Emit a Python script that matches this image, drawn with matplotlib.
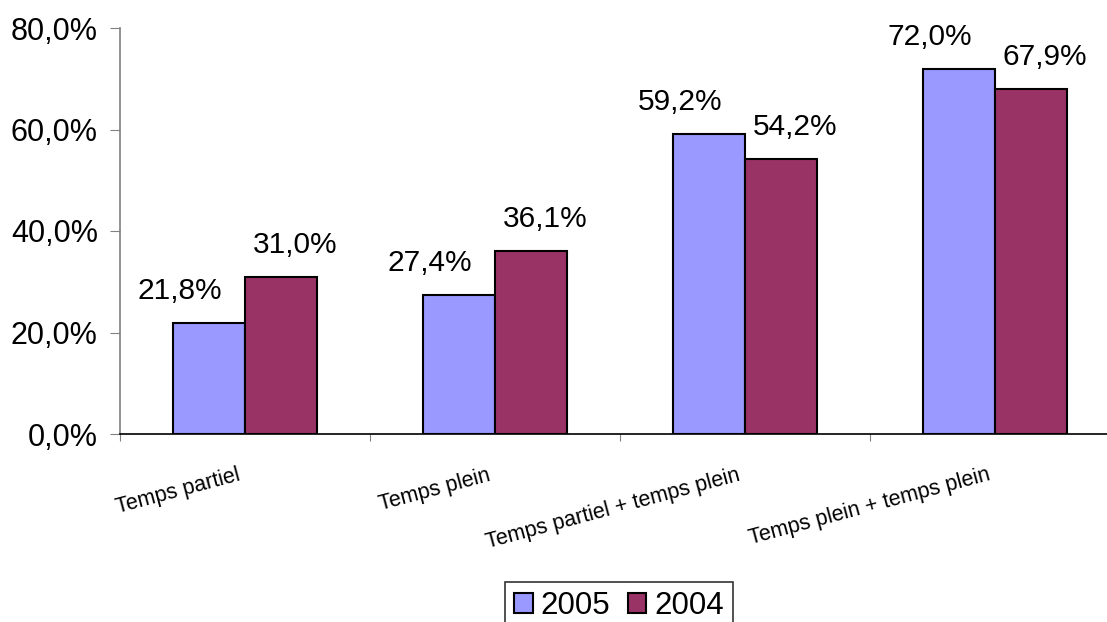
import matplotlib
matplotlib.use('Agg')
import matplotlib.pyplot as plt
import matplotlib.transforms as mtransforms
import numpy as np

categories = ['Temps partiel', 'Temps plein', 'Temps partiel + temps plein', 'Temps plein + temps plein']
years = ['2005', '2004']
vals_2005 = [21.8, 27.4, 59.2, 72.0]
vals_2004 = [31.0, 36.1, 54.2, 67.9]
yticks = [0, 20, 40, 60, 80]

colors = ['#9999FF', '#993366']

plt.rcParams['font.family'] = ['Liberation Sans', 'DejaVu Sans']

fig = plt.figure(figsize=(11.07, 6.22), dpi=100)
ax = fig.add_axes([120 / 1107, 1 - 434 / 622, 1000 / 1107, 406 / 622])

x = np.arange(len(categories))
w = 0.288

series = [vals_2005, vals_2004]
offsets = [-w / 2, w / 2]
label_dx = [-21, 10]
for vals, off, col, yr, dx in zip(series, offsets, colors, years, label_dx):
    bars = ax.bar(x + off, vals, width=w, color=col, edgecolor='black',
                  linewidth=1.5, label=yr, zorder=3)
    for b, v in zip(bars, vals):
        ax.annotate(f'{v:.1f}%'.replace('.', ','),
                    (b.get_x() + b.get_width() / 2, v),
                    xytext=(dx, 23), textcoords='offset points',
                    ha='center', va='center', fontsize=21.5)

ax.set_xlim(-0.5, len(categories) - 0.5)
ax.set_ylim(0, 80)
ax.set_yticks(yticks)
ax.set_yticklabels([f'{t:.1f}%'.replace('.', ',') for t in yticks], fontsize=22)

# group boundaries carry the tick marks, centres carry the labels
ax.set_xticks(np.arange(len(categories) + 1) - 0.5)
ax.set_xticklabels([])
ax.set_xticks(x, minor=True)
ax.set_xticklabels(categories, minor=True, fontsize=15.5, rotation=15,
                   ha='right', va='top', rotation_mode='anchor')
ax.tick_params(axis='x', which='minor', length=0, pad=22)
ax.tick_params(axis='x', which='major', length=5, color='#808080', direction='out')
ax.tick_params(axis='y', length=7, color='#808080', pad=9)
shift = mtransforms.ScaledTranslation(-8 / 100, 0, fig.dpi_scale_trans)
for lbl in ax.get_xticklabels(minor=True):
    lbl.set_transform(lbl.get_transform() + shift)

ax.spines['top'].set_visible(False)
ax.spines['right'].set_visible(False)
ax.spines['left'].set_color('#808080')
ax.spines['bottom'].set_color('black')
ax.spines['left'].set_linewidth(1.2)
ax.spines['bottom'].set_linewidth(1.2)

leg = fig.legend(loc='upper center', bbox_to_anchor=(619 / 1107, 1 - 582 / 622),
                 ncol=2, fontsize=22.5, frameon=True, fancybox=False,
                 handlelength=0.6, handleheight=0.6, handletextpad=0.25,
                 columnspacing=0.55, borderpad=0.3, borderaxespad=0)
leg.get_frame().set_edgecolor('black')
leg.get_frame().set_linewidth(1.2)

fig.savefig('out.png', dpi=100)
plt.close(fig)
